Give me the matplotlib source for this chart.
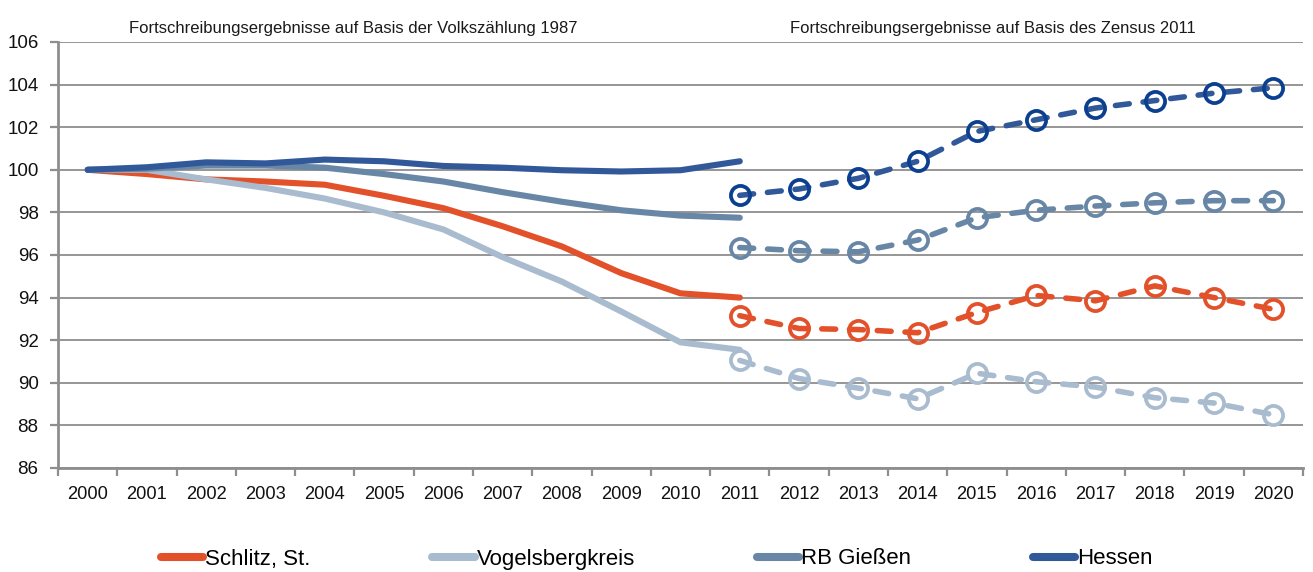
import matplotlib
matplotlib.use("Agg")
import matplotlib.pyplot as plt
from matplotlib import font_manager
from matplotlib.lines import Line2D

# ---------------- data ----------------
years = [str(y) for y in range(2000, 2021)]
years_v87 = years[:12]          # 2000-2011, Basis Volkszählung 1987
years_z11 = years[11:]          # 2011-2020, Basis Zensus 2011

series_names = ["Schlitz, St.", "Vogelsbergkreis", "RB Gießen", "Hessen"]

schlitz_v87 = [100.0, 99.8, 99.55, 99.45, 99.3, 98.78, 98.2, 97.35, 96.4, 95.15, 94.2, 94.0]
vogels_v87 = [100.0, 100.0, 99.55, 99.15, 98.65, 98.0, 97.2, 95.9, 94.75, 93.35, 91.9, 91.55]
rb_v87 = [100.0, 100.05, 100.2, 100.2, 100.1, 99.8, 99.45, 98.95, 98.5, 98.1, 97.85, 97.75]
hessen_v87 = [100.0, 100.12, 100.35, 100.3, 100.48, 100.4, 100.18, 100.1, 99.98, 99.92, 99.98, 100.4]

schlitz_z11 = [93.15, 92.55, 92.5, 92.35, 93.3, 94.1, 93.85, 94.55, 94.0, 93.45]
vogels_z11 = [91.05, 90.2, 89.75, 89.25, 90.45, 90.05, 89.8, 89.3, 89.05, 88.5]
rb_z11 = [96.35, 96.2, 96.15, 96.7, 97.75, 98.1, 98.3, 98.45, 98.55, 98.55]
hessen_z11 = [98.8, 99.1, 99.6, 100.4, 101.8, 102.35, 102.9, 103.25, 103.6, 103.85]

yticks = [86, 88, 90, 92, 94, 96, 98, 100, 102, 104, 106]
header_left = "Fortschreibungsergebnisse auf Basis der Volkszählung 1987"
header_right = "Fortschreibungsergebnisse auf Basis des Zensus 2011"

# ---------------- style ----------------
line_colors = ["#E2512A", "#A9BBCE", "#6886A5", "#31599A"]
marker_colors = ["#E2512A", "#A9BBCE", "#6886A5", "#0B3F8F"]
grid_col = "#8E8E8E"

names = {f.name for f in font_manager.fontManager.ttflist}
if "Liberation Sans Narrow" in names:
    fam = ["Liberation Sans Narrow", "Liberation Sans", "DejaVu Sans"]
    k = 1.0
else:
    fam = ["Liberation Sans", "DejaVu Sans"]
    k = 0.82
plt.rcParams["font.family"] = fam

W, H = 1313, 572
fig = plt.figure(figsize=(W / 100, H / 100), dpi=100)
ax = fig.add_axes([58 / W, 1 - 468 / H, 1245 / W, 426 / H])

x_all = list(range(len(years)))
x_v87 = x_all[:12]
x_z11 = x_all[11:]

solid = [schlitz_v87, vogels_v87, rb_v87, hessen_v87]
dashed = [schlitz_z11, vogels_z11, rb_z11, hessen_z11]

for i in range(4):
    ax.plot(x_v87, solid[i], color=line_colors[i], lw=4.4,
            solid_capstyle="round", solid_joinstyle="round", zorder=3 + i)
for i in range(4):
    ln, = ax.plot(x_z11, dashed[i], color=line_colors[i], lw=4.0,
                  dash_capstyle="round", zorder=3 + i,
                  marker="o", markersize=13.8, markerfacecolor="none",
                  markeredgecolor=marker_colors[i], markeredgewidth=2.7)
    ln.set_dashes((2.5, 2.5))

ax.set_xlim(-0.5, len(years) - 0.5)
ax.set_ylim(86, 106)
ax.set_yticks(yticks)
ax.set_xticks(x_all)
ax.set_xticklabels(years)
ax.set_xticks([v - 0.5 for v in range(len(years) + 1)], minor=True)

ax.yaxis.grid(True, color=grid_col, lw=1.3)
ax.set_axisbelow(True)
for s in ["top", "right"]:
    ax.spines[s].set_visible(False)
for s in ["left", "bottom"]:
    ax.spines[s].set_color(grid_col)
    ax.spines[s].set_linewidth(2.0)

ax.tick_params(axis="x", which="major", length=0, pad=13, labelsize=16 * k,
               labelcolor="#111111")
ax.tick_params(axis="x", which="minor", length=6, width=1.6, color=grid_col,
               direction="out")
ax.tick_params(axis="y", length=6, width=1.6, color=grid_col, pad=8,
               labelsize=16.5 * k, labelcolor="#111111")

fig.text(353 / W, 1 - 33 / H, header_left, ha="center", va="baseline",
         fontsize=14.6 * k, color="#1a1a1a")
fig.text(993 / W, 1 - 33 / H, header_right, ha="center", va="baseline",
         fontsize=14.6 * k, color="#1a1a1a")

handles = [Line2D([], [], color=line_colors[i], lw=5.8, solid_capstyle="round")
           for i in range(4)]
fs_leg = 19.5 * k
fig.legend(handles, series_names, loc="center left",
           bbox_to_anchor=(161 / W, 1 - 559 / H), ncol=4, frameon=False,
           fontsize=fs_leg, handlelength=1.9, handletextpad=0.08,
           columnspacing=5.5, borderpad=0, borderaxespad=0)

fig.savefig("out.png", dpi=100)
